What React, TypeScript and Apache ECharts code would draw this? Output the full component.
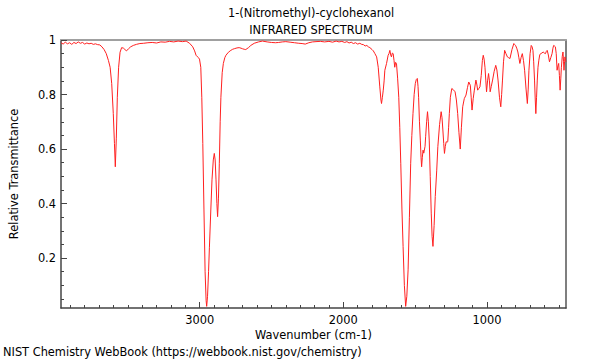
import React, { useEffect, useRef } from "react";
import * as echarts from "echarts";

const wavenumbers: number[] = [
  3965, 3950, 3935, 3920, 3905, 3890, 3875, 3860, 3845, 3830, 3815, 3800, 3785, 3770, 3755, 3740, 3725, 3710, 3695, 3680,
  3665, 3650, 3635, 3623, 3612, 3601, 3593, 3587, 3580, 3573, 3564, 3554, 3543, 3530, 3520, 3509, 3495, 3480, 3462, 3440,
  3416, 3390, 3360, 3330, 3300, 3270, 3240, 3210, 3180, 3150, 3120, 3094, 3070, 3048, 3035, 3025, 3010, 3001, 2992, 2985,
  2978, 2970, 2962, 2955, 2951, 2945, 2938, 2932, 2922, 2914, 2905, 2898, 2892, 2886, 2880, 2875, 2869, 2863, 2857, 2852,
  2843, 2835, 2825, 2817, 2800, 2783, 2770, 2759, 2740, 2725, 2712, 2702, 2690, 2679, 2660, 2644, 2620, 2590, 2563, 2530,
  2500, 2472, 2450, 2425, 2400, 2370, 2340, 2310, 2287, 2265, 2240, 2215, 2190, 2160, 2130, 2100, 2075, 2050, 2030, 2010,
  1990, 1975, 1960, 1945, 1930, 1915, 1900, 1885, 1872, 1860, 1848, 1836, 1826, 1815, 1800, 1791, 1780, 1768, 1757, 1746,
  1738, 1734, 1728, 1722, 1716, 1711, 1699, 1688, 1682, 1676, 1670, 1665, 1659, 1653, 1647, 1642, 1636, 1630, 1622, 1614,
  1607, 1600, 1592, 1584, 1575, 1566, 1558, 1549, 1540, 1531, 1523, 1515, 1507, 1499, 1492, 1485, 1480, 1476, 1470, 1464,
  1459, 1455, 1450, 1445, 1440, 1436, 1431, 1427, 1420, 1414, 1408, 1402, 1395, 1388, 1382, 1376, 1368, 1360, 1350, 1342,
  1330, 1319, 1313, 1307, 1301, 1296, 1290, 1284, 1278, 1273, 1267, 1262, 1255, 1245, 1235, 1222, 1213, 1204, 1195, 1186,
  1178, 1169, 1158, 1146, 1136, 1127, 1116, 1110, 1104, 1096, 1088, 1077, 1070, 1065, 1057, 1049, 1040, 1032, 1026, 1020,
  1014, 1008, 1003, 996, 989, 983, 978, 970, 961, 950, 939, 931, 923, 913, 904, 898, 892, 885, 877, 868,
  858, 849, 840, 826, 813, 807, 801, 793, 785, 778, 771, 763, 754, 746, 738, 728, 719, 713, 708, 700,
  692, 686, 680, 675, 669, 664, 660, 655, 650, 645, 639, 633, 627, 618, 609, 601, 593, 587, 581, 573,
  565, 556, 547, 541, 536, 530, 524, 518, 512, 506, 501, 496, 491, 486, 482, 476, 471, 467, 464, 460,
  457, 453, 450,
];

const transmittance: number[] = [
  0.990, 0.985, 0.992, 0.986, 0.990, 0.984, 0.991, 0.987, 0.993, 0.988, 0.991, 0.985, 0.989, 0.986, 0.988, 0.984, 0.986, 0.983, 0.982, 0.975,
  0.965, 0.950, 0.925, 0.900, 0.840, 0.730, 0.620, 0.535, 0.640, 0.790, 0.900, 0.955, 0.972, 0.970, 0.965, 0.960, 0.968, 0.975, 0.980, 0.984,
  0.987, 0.988, 0.990, 0.991, 0.989, 0.993, 0.992, 0.995, 0.993, 0.996, 0.994, 0.996, 0.988, 0.975, 0.960, 0.944, 0.936, 0.930, 0.900, 0.790,
  0.620, 0.380, 0.150, 0.045, 0.023, 0.060, 0.150, 0.240, 0.380, 0.487, 0.560, 0.584, 0.560, 0.487, 0.400, 0.352, 0.420, 0.548, 0.700, 0.790,
  0.880, 0.914, 0.935, 0.944, 0.955, 0.962, 0.966, 0.968, 0.971, 0.972, 0.970, 0.968, 0.966, 0.965, 0.972, 0.980, 0.988, 0.993, 0.996, 0.993,
  0.991, 0.990, 0.991, 0.993, 0.994, 0.992, 0.990, 0.988, 0.987, 0.985, 0.990, 0.993, 0.994, 0.995, 0.993, 0.995, 0.992, 0.996, 0.993, 0.995,
  0.991, 0.994, 0.989, 0.992, 0.987, 0.990, 0.985, 0.988, 0.984, 0.983, 0.978, 0.980, 0.975, 0.972, 0.965, 0.960, 0.950, 0.938, 0.900, 0.828,
  0.780, 0.767, 0.790, 0.816, 0.850, 0.889, 0.914, 0.944, 0.950, 0.962, 0.945, 0.938, 0.952, 0.950, 0.925, 0.900, 0.918, 0.914, 0.860, 0.790,
  0.680, 0.548, 0.380, 0.243, 0.100, 0.023, 0.060, 0.157, 0.350, 0.548, 0.650, 0.730, 0.800, 0.840, 0.855, 0.859, 0.830, 0.790, 0.700, 0.633,
  0.570, 0.535, 0.570, 0.596, 0.585, 0.584, 0.610, 0.645, 0.700, 0.737, 0.700, 0.633, 0.500, 0.365, 0.280, 0.243, 0.320, 0.426, 0.520, 0.609,
  0.690, 0.737, 0.715, 0.670, 0.620, 0.584, 0.610, 0.627, 0.625, 0.627, 0.680, 0.730, 0.790, 0.822, 0.818, 0.810, 0.780, 0.730, 0.660, 0.600,
  0.680, 0.755, 0.785, 0.798, 0.825, 0.846, 0.834, 0.790, 0.743, 0.785, 0.816, 0.853, 0.835, 0.816, 0.822, 0.828, 0.870, 0.925, 0.944, 0.930,
  0.900, 0.850, 0.810, 0.850, 0.877, 0.850, 0.810, 0.830, 0.853, 0.885, 0.907, 0.890, 0.853, 0.790, 0.755, 0.800, 0.853, 0.920, 0.962, 0.950,
  0.938, 0.935, 0.932, 0.965, 0.987, 0.983, 0.980, 0.970, 0.956, 0.935, 0.914, 0.935, 0.950, 0.925, 0.889, 0.820, 0.767, 0.820, 0.889, 0.950,
  0.980, 0.975, 0.962, 0.920, 0.853, 0.780, 0.730, 0.790, 0.853, 0.900, 0.926, 0.945, 0.950, 0.952, 0.956, 0.952, 0.950, 0.958, 0.962, 0.945,
  0.920, 0.935, 0.950, 0.970, 0.980, 0.978, 0.975, 0.950, 0.889, 0.905, 0.914, 0.870, 0.816, 0.860, 0.900, 0.940, 0.956, 0.920, 0.889, 0.920,
  0.938, 0.925, 0.920,
];

const xMajorTicks: number[] = [1000, 2000, 3000];
const xMinorTicks: number[] = [
  500, 600, 700, 800, 900, 1100, 1200, 1300, 1400, 1500, 1600, 1700, 1800, 1900, 2100, 2200, 2300, 2400, 2500, 2600,
  2700, 2800, 2900, 3100, 3200, 3300, 3400, 3500, 3600, 3700, 3800, 3900,
];
const yMajorTicks: number[] = [0.2, 0.4, 0.6, 0.8, 1.0];
const yMinorTicks: number[] = [0.05, 0.1, 0.15, 0.25, 0.3, 0.35, 0.45, 0.5, 0.55, 0.65, 0.7, 0.75, 0.85, 0.9, 0.95];

const X_MIN = 450;
const X_MAX = 3965;
const Y_MIN = 0.017;
const Y_MAX = 1.0;

const FONT = "DejaVu Sans";
const FS = 11.4;

export default function App() {
  const ref = useRef<HTMLDivElement>(null);

  useEffect(() => {
    if (!ref.current) return;
    const chart = echarts.init(ref.current, undefined, { renderer: "svg" });
    const data = wavenumbers.map((w, i) => [w, transmittance[i]]);
    const hidden = { show: false };
    chart.setOption({
      animation: false,
      backgroundColor: "#ffffff",
      grid: { left: 57, right: 34, top: 40, bottom: 52, containLabel: false },
      graphic: [
        {
          type: "text",
          x: 311,
          y: 13,
          style: { text: "1-(Nitromethyl)-cyclohexanol", font: `${FS}px '${FONT}'`, fill: "#000", align: "center", verticalAlign: "middle" },
        },
        {
          type: "text",
          x: 311,
          y: 30,
          style: { text: "INFRARED SPECTRUM", font: `${FS}px '${FONT}'`, fill: "#000", align: "center", verticalAlign: "middle" },
        },
        {
          type: "text",
          x: 3,
          y: 352,
          style: {
            text: "NIST Chemistry WebBook (https://webbook.nist.gov/chemistry)",
            font: `${FS}px '${FONT}'`,
            fill: "#000",
            align: "left",
            verticalAlign: "middle",
          },
        },
      ],
      xAxis: [
        {
          type: "value",
          inverse: true,
          min: X_MIN,
          max: X_MAX,
          position: "bottom",
          name: "Wavenumber (cm-1)",
          nameLocation: "middle",
          nameGap: 20,
          nameTextStyle: { fontFamily: FONT, fontSize: FS, color: "#000" },
          axisLine: { show: true, lineStyle: { color: "#444", width: 1.5 } },
          axisTick: { show: true, inside: true, length: 6, customValues: xMajorTicks, lineStyle: { color: "#444" } },
          axisLabel: {
            show: true,
            customValues: xMajorTicks,
            margin: 6,
            fontFamily: FONT,
            fontSize: FS,
            color: "#000",
            formatter: (v: number) => String(Math.round(v)),
          },
          splitLine: hidden,
        },
        {
          type: "value",
          inverse: true,
          min: X_MIN,
          max: X_MAX,
          position: "bottom",
          offset: 0,
          axisLine: hidden,
          axisTick: { show: true, inside: true, length: 3, customValues: xMinorTicks, lineStyle: { color: "#444" } },
          axisLabel: hidden,
          splitLine: hidden,
        },
        {
          type: "value",
          inverse: true,
          min: X_MIN,
          max: X_MAX,
          position: "top",
          axisLine: { show: true, lineStyle: { color: "#a0a0a0", width: 2 } },
          axisTick: hidden,
          axisLabel: hidden,
          splitLine: hidden,
        },
      ],
      yAxis: [
        {
          type: "value",
          min: Y_MIN,
          max: Y_MAX,
          position: "left",
          name: "Relative Transmittance",
          nameLocation: "middle",
          nameGap: 42,
          nameTextStyle: { fontFamily: FONT, fontSize: FS, color: "#000" },
          axisLine: { show: true, lineStyle: { color: "#444", width: 1.5 } },
          axisTick: { show: true, inside: true, length: 6, customValues: yMajorTicks, lineStyle: { color: "#444" } },
          axisLabel: {
            show: true,
            customValues: yMajorTicks,
            margin: 5,
            fontFamily: FONT,
            fontSize: FS,
            color: "#000",
            formatter: (v: number) => String(Number(v.toFixed(2))),
          },
          splitLine: hidden,
        },
        {
          type: "value",
          min: Y_MIN,
          max: Y_MAX,
          position: "left",
          offset: 0,
          axisLine: hidden,
          axisTick: { show: true, inside: true, length: 3, customValues: yMinorTicks, lineStyle: { color: "#444" } },
          axisLabel: hidden,
          splitLine: hidden,
        },
        {
          type: "value",
          min: Y_MIN,
          max: Y_MAX,
          position: "right",
          axisLine: { show: true, lineStyle: { color: "#555", width: 1.5 } },
          axisTick: hidden,
          axisLabel: hidden,
          splitLine: hidden,
        },
      ],
      series: [
        {
          type: "line",
          xAxisIndex: 0,
          yAxisIndex: 0,
          data,
          showSymbol: false,
          symbol: "none",
          lineStyle: { color: "#ff2020", width: 1 },
          silent: true,
        },
      ],
    });
    return () => chart.dispose();
  }, []);

  return <div ref={ref} style={{ width: 600, height: 360, position: "absolute", left: 0, top: 0 }} />;
}
